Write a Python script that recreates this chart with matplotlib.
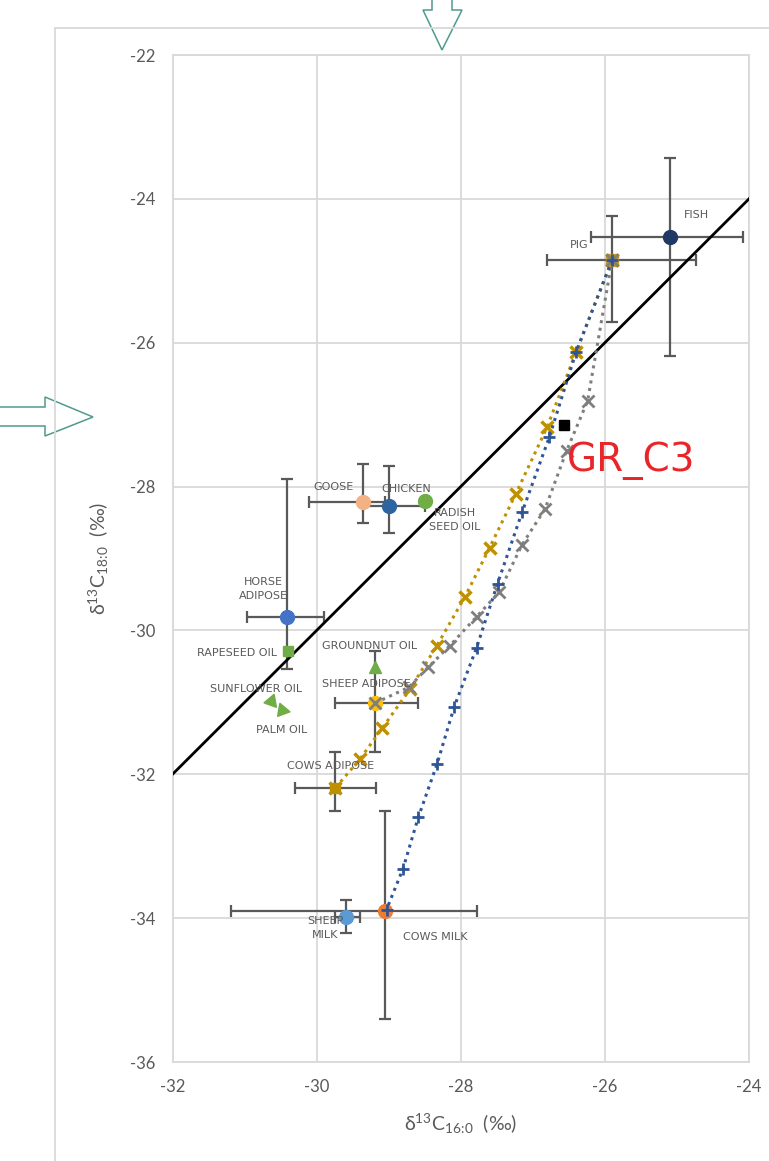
import matplotlib
matplotlib.use("Agg")
import matplotlib.pyplot as plt
from matplotlib.patches import Polygon
from matplotlib.lines import Line2D

plt.rcParams["axes.unicode_minus"] = False

# reference samples: name, d13C16:0, d13C18:0
names = ["FISH", "PIG", "GOOSE", "CHICKEN", "RADISH SEED OIL", "HORSE ADIPOSE",
         "RAPESEED OIL", "GROUNDNUT OIL", "SHEEP ADIPOSE", "SUNFLOWER OIL",
         "PALM OIL", "COWS ADIPOSE", "SHEEP MILK", "COWS MILK"]
c16 = [-25.09, -25.90, -29.35, -29.00, -28.49, -30.41,
       -30.40, -29.19, -29.19, -30.63, -30.48, -29.74, -29.59, -29.05]
c18 = [-24.53, -24.85, -28.22, -28.27, -28.20, -29.81,
       -30.29, -30.51, -31.01, -30.98, -31.11, -32.19, -33.98, -33.90]

# error bars (left/right, down/up) for the samples that have them
err_names = ["FISH", "PIG", "GOOSE", "CHICKEN", "HORSE ADIPOSE", "SHEEP ADIPOSE",
             "COWS ADIPOSE", "SHEEP MILK", "COWS MILK"]
xerr_lo = [1.10, 0.90, 0.75, 0.35, 0.55, 0.55, 0.56, 0.15, 2.14]
xerr_hi = [1.01, 1.16, 0.30, 0.50, 0.51, 0.60, 0.57, 0.19, 1.27]
yerr_lo = [1.66, 0.86, 0.28, 0.38, 0.73, 0.68, 0.32, 0.22, 1.50]
yerr_hi = [1.10, 0.61, 0.53, 0.55, 1.92, 0.72, 0.50, 0.23, 1.39]

# mixing curves from pig (0 .. 100 %)
mix_cowsad_x = [-25.90, -26.40, -26.80, -27.24, -27.60, -27.94, -28.33, -28.70, -29.09, -29.40, -29.74]
mix_cowsad_y = [-24.85, -26.13, -27.17, -28.11, -28.85, -29.53, -30.21, -30.81, -31.36, -31.79, -32.19]
mix_sheepad_x = [-25.90, -26.24, -26.53, -26.83, -27.15, -27.47, -27.78, -28.15, -28.45, -28.72, -29.19]
mix_sheepad_y = [-24.85, -26.81, -27.50, -28.31, -28.81, -29.47, -29.81, -30.21, -30.51, -30.79, -31.01]
mix_cowsmilk_x = [-25.90, -26.40, -26.77, -27.15, -27.49, -27.78, -28.09, -28.33, -28.59, -28.80, -29.03]
mix_cowsmilk_y = [-24.85, -26.13, -27.31, -28.36, -29.35, -30.24, -31.06, -31.86, -32.60, -33.31, -33.88]

sample_gr = (-26.57, -27.15)

W, H = 769, 1161
fig = plt.figure(figsize=(W / 100, H / 100), dpi=100)
ax = fig.add_axes([172.5 / W, 1 - 1062 / H, (749 - 172.5) / W, (1062 - 55) / H])

ax.set_xlim(-32, -24)
ax.set_ylim(-36, -22)
ax.set_xticks(range(-32, -23, 2))
ax.set_yticks(range(-36, -21, 2))
ax.grid(True, color="#d9d9d9", lw=1.3)
ax.set_axisbelow(True)
for s in ax.spines.values():
    s.set_color("#d9d9d9")
    s.set_linewidth(1.3)
ax.tick_params(length=0, pad=12, labelsize=12, labelcolor="#595959")
for t in ax.get_xticklabels() + ax.get_yticklabels():
    t.set_fontfamily("Lato")

ax.set_xlabel(r"$\mathregular{\delta^{13}C_{16\!:\!0}}$  (‰)", fontsize=14, color="#595959",
              family="Lato", labelpad=12)
ax.set_ylabel(r"$\mathregular{\delta^{13}C_{18\!:\!0}}$  (‰)", fontsize=14, color="#595959",
              family="Lato", labelpad=14)

pos = dict(zip(names, zip(c16, c18)))

# error bars
ex = [pos[n][0] for n in err_names]
ey = [pos[n][1] for n in err_names]
ax.errorbar(ex, ey, xerr=[xerr_lo, xerr_hi], yerr=[yerr_lo, yerr_hi], fmt="none",
            ecolor="#595959", elinewidth=1.6, capsize=4.5, capthick=1.6, zorder=2)

# 1:1 line
ax.plot([-32, -24], [-32, -24], color="black", lw=2, zorder=3)

styles = {
    "FISH": ("o", "#1f3864", 10),
    "PIG": ("s", "#c49a3a", 8),
    "GOOSE": ("o", "#f4b183", 10),
    "CHICKEN": ("o", "#2e64a0", 10),
    "RADISH SEED OIL": ("o", "#70ad47", 10),
    "HORSE ADIPOSE": ("o", "#4472c4", 10),
    "RAPESEED OIL": ("s", "#70ad47", 7),
    "GROUNDNUT OIL": ("^", "#70ad47", 9),
    "SHEEP ADIPOSE": ("o", "#ffc000", 10),
    "SUNFLOWER OIL": ((3, 0, 100), "#70ad47", 11),
    "PALM OIL": ((3, 0, 20), "#70ad47", 11),
    "COWS ADIPOSE": ("s", "#bf9000", 7),
    "SHEEP MILK": ("o", "#5b9bd5", 10),
    "COWS MILK": ("o", "#ed7d31", 10),
}
for n in names:
    m, c, s = styles[n]
    ax.plot(pos[n][0], pos[n][1], marker=m, color=c, ms=s, ls="none", zorder=4)

# mixing lines
ax.plot(mix_cowsad_x, mix_cowsad_y, ls=(0, (1, 1.5)), lw=2.2, color="#bf9000",
        marker="x", ms=8, mew=2.5, zorder=5)
ax.plot(mix_sheepad_x, mix_sheepad_y, ls=(0, (1, 1.5)), lw=2.2, color="#7f7f7f",
        marker="x", ms=9, mew=2, zorder=5)
ax.plot(mix_cowsmilk_x, mix_cowsmilk_y, ls=(0, (1, 1.5)), lw=2.2, color="#2f5597",
        marker="+", ms=9, mew=2, zorder=5)

ax.plot(*sample_gr, marker="s", color="black", ms=7, ls="none", zorder=6)
ax.text(-26.53, -27.64, "GR_C3", color="#e8262a", fontsize=28, ha="left", va="center",
        family="DejaVu Sans", zorder=7)

lab = dict(fontsize=8, color="#595959", family="DejaVu Sans", zorder=6)
ax.text(-24.91, -24.22, "FISH", ha="left", va="center", **lab)
ax.text(-26.23, -24.64, "PIG", ha="right", va="center", **lab)
ax.text(-29.76, -28.01, "GOOSE", ha="center", va="center", **lab)
ax.text(-28.76, -28.03, "CHICKEN", ha="center", va="center", **lab)
ax.text(-28.08, -28.47, "RADISH\nSEED OIL", ha="center", va="center", linespacing=1.5, **lab)
ax.text(-30.74, -29.42, "HORSE\nADIPOSE", ha="center", va="center", linespacing=1.5, **lab)
ax.text(-30.55, -30.32, "RAPESEED OIL", ha="right", va="center", **lab)
ax.text(-29.92, -30.22, "GROUNDNUT OIL", ha="left", va="center", **lab)
ax.text(-29.92, -30.74, "SHEEP ADIPOSE", ha="left", va="center", **lab)
ax.text(-31.48, -30.81, "SUNFLOWER OIL", ha="left", va="center", **lab)
ax.text(-30.84, -31.39, "PALM OIL", ha="left", va="center", **lab)
ax.text(-30.41, -31.89, "COWS ADIPOSE", ha="left", va="center", **lab)
ax.text(-29.88, -34.14, "SHEEP\nMILK", ha="center", va="center", linespacing=1.5, **lab)
ax.text(-28.80, -34.26, "COWS MILK", ha="left", va="center", **lab)

# chart border (top and left edges visible)
def px(x, y):
    return (x / W, 1 - y / H)

fig.add_artist(Line2D([55 / W, 55 / W], [0, 1 - 28 / H], color="#d9d9d9", lw=1.3))
fig.add_artist(Line2D([55 / W, 1], [1 - 28 / H] * 2, color="#d9d9d9", lw=1.3))

# hollow arrows
down = [px(432, -5), px(432, 10), px(423, 10), px(442, 50), px(462, 10), px(452, 10), px(452, -5)]
right = [px(-5, 407), px(45, 407), px(45, 397), px(93, 417), px(45, 436), px(45, 426), px(-5, 426)]
for pts in (down, right):
    fig.add_artist(Polygon(pts, closed=True, fill=False, edgecolor="#4e9a8e", lw=1.1,
                           transform=fig.transFigure))

fig.savefig("out.png", dpi=100)
